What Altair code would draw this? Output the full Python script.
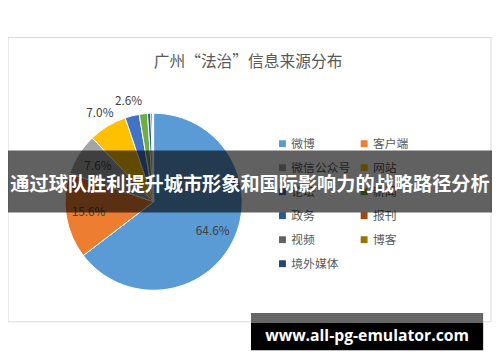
import altair as alt
import pandas as pd

categories = ["微博", "客户端", "微信公众号", "网站", "论坛", "新闻", "政务", "报刊", "视频", "博客", "境外媒体"]
values = [64.6, 15.6, 7.6, 7.0, 2.6, 1.5, 0.6, 0.3, 0.1, 0.05, 0.05]
colors = ["#5B9BD5", "#ED7D31", "#A5A5A5", "#FFC000", "#4472C4", "#70AD47",
          "#255E91", "#9E480E", "#636363", "#997300", "#264478"]
labels_inside = ["64.6%", "15.6%", "7.6%", "", "", "", "", "", "", "", ""]
labels_outside = ["", "", "", "7.0%", "2.6%", "", "", "", "", "", ""]
legend_cols = [0, 1, 0, 1, 0, 1, 0, 1, 0, 1, 0]
legend_rows = [0, 0, 1, 1, 2, 2, 3, 3, 4, 4, 5]

title_text = "广州“法治”信息来源分布"
banner_text = "通过球队胜利提升城市形象和国际影响力的战略路径分析"
watermark_text = "www.all-pg-emulator.com"

CJK = "Noto Sans CJK SC"

df = pd.DataFrame({
    "cat": categories,
    "value": values,
    "idx": list(range(len(categories))),
    "lin": labels_inside,
    "lout": labels_outside,
    "col": legend_cols,
    "row": legend_rows,
})
one = pd.DataFrame({"t": [title_text], "b": [banner_text], "w": [watermark_text]})

color = alt.Color("cat:N", scale=alt.Scale(domain=categories, range=colors), legend=None)
cx, cy, R = 148, 194, 90

box = alt.Chart(one).mark_rect(fill="white", stroke="#d9d9d9", strokeWidth=1).encode(
    x=alt.value(0), x2=alt.value(491), y=alt.value(27), y2=alt.value(316))

title = alt.Chart(one).mark_text(font=CJK, fontSize=16, color="#595959").encode(
    x=alt.value(244), y=alt.value(52), text="t:N")

base = alt.Chart(df).encode(
    theta=alt.Theta("value:Q", stack=True),
    order=alt.Order("idx:Q"),
)
pie = base.mark_arc(outerRadius=R, stroke="white", strokeWidth=1).encode(
    color=color, x=alt.value(cx), y=alt.value(cy))
lab_in = base.mark_text(radius=67, font=CJK, fontSize=12, color="#404040").encode(
    text="lin:N", x=alt.value(cx), y=alt.value(cy))
lab_out = base.mark_text(radius=105, font=CJK, fontSize=12, color="#404040").encode(
    text="lout:N", x=alt.value(cx), y=alt.value(cy))

xs = alt.Scale(domain=[0, 1], range=[279, 362])
ys = alt.Scale(domain=[0, 5], range=[135, 257])
leg_sq = alt.Chart(df).mark_square(size=49, opacity=1).encode(
    x=alt.X("col:Q", scale=xs, axis=None),
    y=alt.Y("row:Q", scale=ys, axis=None),
    color=color)
leg_tx = alt.Chart(df).mark_text(align="left", dx=9, font=CJK, fontSize=12, color="#595959").encode(
    x=alt.X("col:Q", scale=xs, axis=None),
    y=alt.Y("row:Q", scale=ys, axis=None),
    text="cat:N")

banner = alt.Chart(one).mark_rect(color="black", opacity=0.62).encode(
    x=alt.value(0), x2=alt.value(492), y=alt.value(142), y2=alt.value(205))
banner_tx = alt.Chart(one).mark_text(font=CJK, fontSize=19.5, fontWeight="bold", color="white").encode(
    x=alt.value(246), y=alt.value(177), text="b:N")

wm_gray = alt.Chart(one).mark_rect(color="#666666").encode(
    x=alt.value(247), x2=alt.value(483), y=alt.value(307), y2=alt.value(317))
wm_black = alt.Chart(one).mark_rect(color="black").encode(
    x=alt.value(247), x2=alt.value(483), y=alt.value(317), y2=alt.value(345))
wm_tx = alt.Chart(one).mark_text(font="Open Sans", fontSize=16, fontWeight="bold", color="white").encode(
    x=alt.value(365), y=alt.value(331), text="w:N")

chart = alt.layer(
    box, title, pie, lab_in, lab_out, leg_sq, leg_tx,
    banner, banner_tx, wm_gray, wm_black, wm_tx
).resolve_scale(x="shared", y="shared").properties(
    width=492, height=354, padding=0,
    autosize=alt.AutoSizeParams(type="none"),
).configure_view(stroke=None)

chart.save("out.html", embed_options={"renderer": "svg", "actions": False})
